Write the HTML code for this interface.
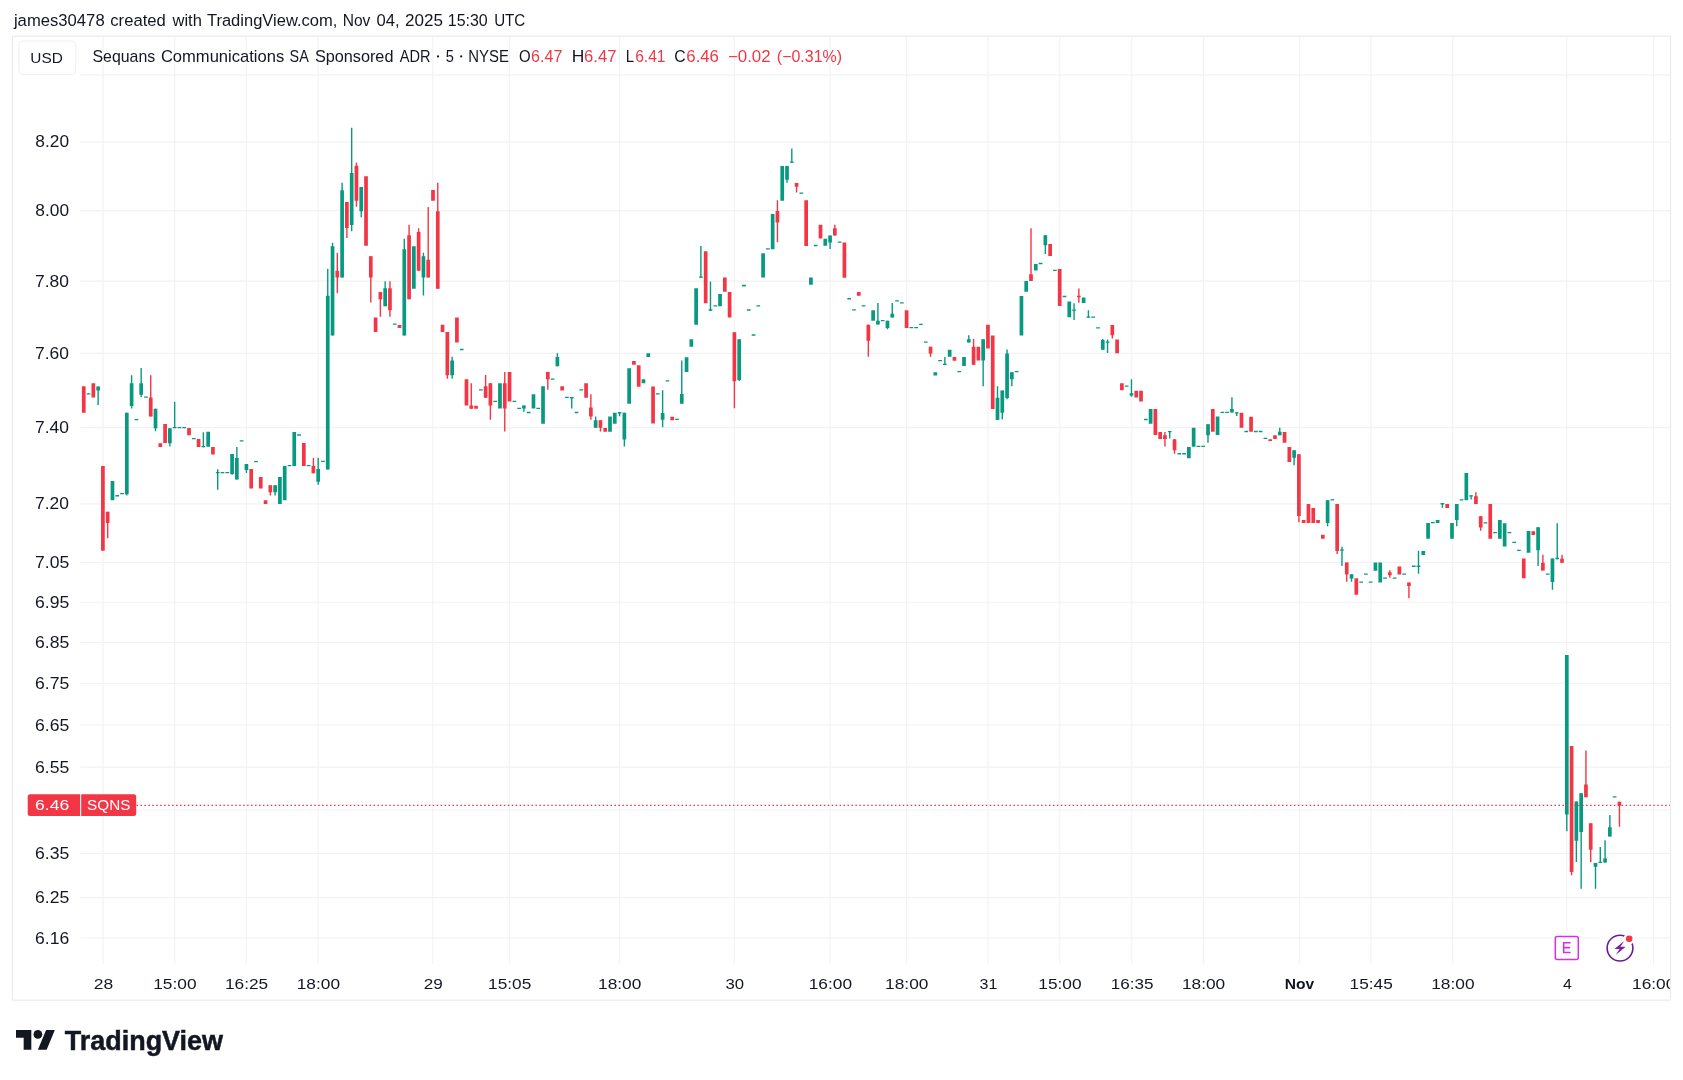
<!DOCTYPE html>
<html><head><meta charset="utf-8"><title>SQNS chart</title>
<style>html,body{margin:0;padding:0;background:#fff;width:1683px;height:1080px;overflow:hidden;font-family:"Liberation Sans",sans-serif}svg{will-change:transform}</style></head>
<body>
<svg width="1683" height="1080" viewBox="0 0 1683 1080" style="position:absolute;left:0;top:0;font-family:'Liberation Sans',sans-serif">
<defs><clipPath id="cp"><rect x="12.5" y="36.2" width="1657.5" height="964"/></clipPath></defs>
<rect x="0" y="0" width="1683" height="1080" fill="#fff"/>
<path d="M103.10 36.2 V964 M174.70 36.2 V964 M246.30 36.2 V964 M318.20 36.2 V964 M432.80 36.2 V964 M509.40 36.2 V964 M619.50 36.2 V964 M734.30 36.2 V964 M830.20 36.2 V964 M906.60 36.2 V964 M987.90 36.2 V964 M1059.80 36.2 V964 M1131.80 36.2 V964 M1203.40 36.2 V964 M1299.50 36.2 V964 M1370.90 36.2 V964 M1452.70 36.2 V964 M1566.80 36.2 V964 M1653.50 36.2 V964 M80.5 74.84 H1670.5 M80.5 141.90 H1670.5 M80.5 210.62 H1670.5 M80.5 281.08 H1670.5 M80.5 353.37 H1670.5 M80.5 427.59 H1670.5 M80.5 503.84 H1670.5 M80.5 562.43 H1670.5 M80.5 602.19 H1670.5 M80.5 642.52 H1670.5 M80.5 683.45 H1670.5 M80.5 724.99 H1670.5 M80.5 767.15 H1670.5 M80.5 809.97 H1670.5 M80.5 853.46 H1670.5 M80.5 897.63 H1670.5 M80.5 938.00 H1670.5" stroke="#f2f2f4" stroke-width="1.1" fill="none"/>
<text transform="translate(35.36 147.45) scale(1.1019 1)" font-size="15.7" fill="#131722">8.20</text>
<text transform="translate(35.36 216.17) scale(1.1019 1)" font-size="15.7" fill="#131722">8.00</text>
<text transform="translate(35.08 286.63) scale(1.1111 1)" font-size="15.7" fill="#131722">7.80</text>
<text transform="translate(35.08 358.92) scale(1.1111 1)" font-size="15.7" fill="#131722">7.60</text>
<text transform="translate(35.08 433.14) scale(1.1111 1)" font-size="15.7" fill="#131722">7.40</text>
<text transform="translate(35.08 509.39) scale(1.1111 1)" font-size="15.7" fill="#131722">7.20</text>
<text transform="translate(35.08 567.98) scale(1.1205 1)" font-size="15.7" fill="#131722">7.05</text>
<text transform="translate(35.08 607.74) scale(1.1205 1)" font-size="15.7" fill="#131722">6.95</text>
<text transform="translate(35.08 648.07) scale(1.1205 1)" font-size="15.7" fill="#131722">6.85</text>
<text transform="translate(35.08 689.00) scale(1.1205 1)" font-size="15.7" fill="#131722">6.75</text>
<text transform="translate(35.08 730.54) scale(1.1205 1)" font-size="15.7" fill="#131722">6.65</text>
<text transform="translate(35.08 772.70) scale(1.1205 1)" font-size="15.7" fill="#131722">6.55</text>
<text transform="translate(35.08 859.01) scale(1.1205 1)" font-size="15.7" fill="#131722">6.35</text>
<text transform="translate(35.08 903.18) scale(1.1205 1)" font-size="15.7" fill="#131722">6.25</text>
<text transform="translate(35.08 943.55) scale(1.1205 1)" font-size="15.7" fill="#131722">6.16</text>
<g clip-path="url(#cp)">
<path d="M98.12 386.48 V405.00 M126.82 412.78 V495.56 M131.60 375.19 V408.52 M141.17 367.96 V397.04 M155.52 408.70 V431.30 M169.88 428.15 V446.48 M174.66 401.67 V428.24 M203.36 432.22 V447.32 M217.72 469.26 V489.63 M232.07 454.11 V474.67 M236.85 446.89 V479.44 M246.42 464.11 V473.00 M275.12 485.22 V495.56 M318.18 457.78 V484.67 M327.75 268.80 V469.40 M332.53 242.80 V335.50 M342.10 182.83 V277.50 M351.67 127.83 V231.33 M361.24 187.00 V217.17 M385.16 281.33 V306.33 M404.29 238.70 V335.50 M423.43 252.83 V295.50 M452.13 356.67 V378.67 M523.89 405.45 V411.66 M557.38 353.37 V366.20 M571.73 397.10 V408.45 M595.65 416.47 V427.70 M619.57 412.08 V416.15 M624.36 412.73 V446.42 M662.63 390.19 V427.22 M681.76 360.56 V403.70 M700.90 246.11 V277.87 M710.47 281.48 V310.65 M739.17 339.26 V380.93 M787.01 165.93 V182.67 M791.80 148.59 V162.87 M830.07 235.56 V248.89 M877.91 302.92 V324.44 M887.48 320.69 V329.31 M892.26 302.92 V317.50 M944.88 357.08 V365.09 M968.80 335.28 V342.50 M983.16 339.31 V386.25 M997.51 386.25 V420.00 M1002.29 390.42 V419.58 M1007.08 349.44 V399.17 M1011.86 372.36 V386.25 M1045.35 235.37 V253.89 M1074.05 303.33 V320.00 M1088.40 310.37 V317.87 M1102.76 339.07 V349.63 M1107.54 339.44 V352.96 M1131.46 379.26 V396.85 M1169.73 431.06 V438.45 M1208.00 424.22 V442.73 M1231.92 397.27 V412.46 M1236.71 412.13 V415.99 M1279.76 427.75 V435.24 M1294.12 450.21 V465.19 M1327.60 500.29 V526.26 M1341.96 546.72 V565.92 M1351.52 574.27 V581.67 M1418.50 550.66 V573.80 M1442.42 503.10 V507.68 M1456.77 504.06 V526.26 M1471.12 495.26 V499.54 M1538.10 527.15 V565.91 M1552.45 558.52 V589.63 M1557.24 523.13 V559.17 M1566.80 655.00 V831.30 M1576.37 801.48 V862.01 M1581.16 793.15 V888.63 M1595.51 862.94 V888.63 M1600.29 846.97 V863.01 M1605.08 840.25 V862.59 M1609.86 814.91 V836.55" stroke="#089981" stroke-width="1.4" fill="none"/>
<path d="M107.68 511.85 V538.15 M150.74 375.19 V416.48 M270.34 485.22 V495.56 M313.40 458.00 V473.33 M337.32 252.83 V293.33 M346.88 202.00 V238.00 M356.45 162.50 V206.67 M370.80 256.30 V302.50 M380.37 292.00 V316.67 M389.94 281.33 V316.67 M409.08 224.70 V299.20 M418.64 228.33 V270.83 M428.21 207.00 V277.50 M437.78 182.83 V288.67 M447.35 332.00 V378.67 M471.27 383.33 V408.83 M485.62 375.08 V397.75 M490.40 383.32 V419.68 M504.76 372.09 V431.44 M547.81 372.09 V389.73 M590.87 394.33 V419.68 M600.44 420.21 V431.44 M734.39 332.22 V408.15 M777.44 200.30 V242.22 M796.58 182.96 V192.59 M834.85 224.74 V235.56 M868.34 324.72 V356.67 M930.53 346.67 V356.67 M973.59 339.03 V364.72 M1031.00 228.33 V281.11 M1078.84 288.52 V302.78 M1112.32 325.00 V338.52 M1164.95 432.03 V446.47 M1174.52 439.30 V453.74 M1298.90 454.17 V522.17 M1337.17 504.06 V554.12 M1346.74 562.46 V581.67 M1389.80 570.33 V577.73 M1408.93 582.45 V598.19 M1475.91 492.15 V504.08 M1480.69 516.13 V530.65 M1542.88 554.63 V570.45 M1562.02 554.63 V562.80 M1571.59 746.00 V875.30 M1585.94 750.60 V797.20 M1590.72 823.24 V862.01 M1619.43 801.83 V826.71" stroke="#f23645" stroke-width="1.4" fill="none"/>
<path d="M86.70 393.24 h3.7 V394.54 h-3.7 z M96.27 386.48 h3.7 V390.56 h-3.7 z M110.62 480.93 h3.7 V500.19 h-3.7 z M115.40 495.09 h3.7 V496.39 h-3.7 z M120.19 493.05 h3.7 V494.35 h-3.7 z M124.97 412.78 h3.7 V494.26 h-3.7 z M129.75 383.15 h3.7 V405.93 h-3.7 z M134.54 418.98 h3.7 V420.28 h-3.7 z M139.32 383.15 h3.7 V394.81 h-3.7 z M144.11 396.57 h3.7 V397.87 h-3.7 z M153.67 408.70 h3.7 V428.15 h-3.7 z M168.03 428.15 h3.7 V443.33 h-3.7 z M172.81 426.94 h3.7 V428.24 h-3.7 z M177.59 426.94 h3.7 V428.24 h-3.7 z M182.38 426.94 h3.7 V428.24 h-3.7 z M191.95 438.05 h3.7 V439.35 h-3.7 z M201.51 446.02 h3.7 V447.32 h-3.7 z M206.30 431.85 h3.7 V446.67 h-3.7 z M215.87 471.94 h3.7 V473.24 h-3.7 z M220.65 471.94 h3.7 V473.24 h-3.7 z M225.43 471.94 h3.7 V473.24 h-3.7 z M230.22 454.11 h3.7 V473.89 h-3.7 z M235.00 458.11 h3.7 V479.44 h-3.7 z M239.79 440.13 h3.7 V441.43 h-3.7 z M244.57 464.11 h3.7 V470.00 h-3.7 z M254.14 461.02 h3.7 V462.32 h-3.7 z M273.27 485.22 h3.7 V492.22 h-3.7 z M278.06 477.00 h3.7 V504.11 h-3.7 z M282.84 466.11 h3.7 V500.33 h-3.7 z M287.63 464.91 h3.7 V466.21 h-3.7 z M292.41 432.00 h3.7 V466.11 h-3.7 z M297.19 434.35 h3.7 V435.65 h-3.7 z M306.76 464.91 h3.7 V466.21 h-3.7 z M316.33 469.11 h3.7 V481.67 h-3.7 z M321.11 460.79 h3.7 V462.09 h-3.7 z M325.90 295.80 h3.7 V469.40 h-3.7 z M330.68 246.20 h3.7 V335.50 h-3.7 z M340.25 190.33 h3.7 V277.50 h-3.7 z M349.82 173.00 h3.7 V225.00 h-3.7 z M359.39 187.00 h3.7 V211.17 h-3.7 z M383.31 288.33 h3.7 V306.33 h-3.7 z M392.87 323.52 h3.7 V324.82 h-3.7 z M402.44 249.20 h3.7 V335.50 h-3.7 z M412.01 246.17 h3.7 V288.67 h-3.7 z M421.58 256.33 h3.7 V277.50 h-3.7 z M450.28 360.50 h3.7 V375.33 h-3.7 z M459.85 348.85 h3.7 V350.15 h-3.7 z M478.99 389.30 h3.7 V390.60 h-3.7 z M493.34 400.63 h3.7 V401.93 h-3.7 z M498.12 383.32 h3.7 V408.45 h-3.7 z M512.47 400.63 h3.7 V401.93 h-3.7 z M517.26 407.80 h3.7 V409.10 h-3.7 z M522.04 405.45 h3.7 V408.45 h-3.7 z M526.83 411.86 h3.7 V413.16 h-3.7 z M531.61 394.33 h3.7 V408.45 h-3.7 z M536.39 407.80 h3.7 V409.10 h-3.7 z M541.18 386.20 h3.7 V423.74 h-3.7 z M550.75 378.39 h3.7 V379.69 h-3.7 z M555.53 357.11 h3.7 V366.20 h-3.7 z M565.10 396.78 h3.7 V398.08 h-3.7 z M569.88 397.10 h3.7 V398.40 h-3.7 z M574.67 411.86 h3.7 V413.16 h-3.7 z M579.45 389.30 h3.7 V390.60 h-3.7 z M593.80 420.21 h3.7 V427.70 h-3.7 z M608.15 416.47 h3.7 V431.76 h-3.7 z M612.94 412.73 h3.7 V423.74 h-3.7 z M617.72 412.08 h3.7 V413.38 h-3.7 z M622.51 412.73 h3.7 V439.47 h-3.7 z M627.29 368.13 h3.7 V403.64 h-3.7 z M641.64 379.36 h3.7 V383.32 h-3.7 z M646.43 353.37 h3.7 V357.11 h-3.7 z M655.99 393.24 h3.7 V394.54 h-3.7 z M660.78 412.96 h3.7 V419.81 h-3.7 z M665.56 380.28 h3.7 V381.58 h-3.7 z M675.13 418.79 h3.7 V420.09 h-3.7 z M679.91 393.89 h3.7 V403.70 h-3.7 z M684.70 357.22 h3.7 V372.04 h-3.7 z M689.48 339.26 h3.7 V346.67 h-3.7 z M694.27 288.33 h3.7 V324.81 h-3.7 z M699.05 276.57 h3.7 V277.87 h-3.7 z M708.62 309.35 h3.7 V310.65 h-3.7 z M713.40 305.28 h3.7 V306.58 h-3.7 z M718.19 293.89 h3.7 V306.30 h-3.7 z M737.32 339.26 h3.7 V380.00 h-3.7 z M742.11 284.63 h3.7 V286.48 h-3.7 z M746.89 309.35 h3.7 V310.65 h-3.7 z M751.67 334.35 h3.7 V335.65 h-3.7 z M756.46 305.28 h3.7 V306.58 h-3.7 z M761.24 253.15 h3.7 V277.59 h-3.7 z M766.03 248.24 h3.7 V249.54 h-3.7 z M770.81 214.07 h3.7 V249.33 h-3.7 z M780.38 165.93 h3.7 V200.74 h-3.7 z M785.16 165.93 h3.7 V179.70 h-3.7 z M789.95 161.57 h3.7 V162.87 h-3.7 z M799.51 192.39 h3.7 V193.69 h-3.7 z M809.08 277.48 h3.7 V284.74 h-3.7 z M813.87 244.83 h3.7 V246.13 h-3.7 z M823.43 238.81 h3.7 V245.63 h-3.7 z M828.22 235.56 h3.7 V242.52 h-3.7 z M837.79 241.57 h3.7 V242.87 h-3.7 z M847.35 298.10 h3.7 V299.40 h-3.7 z M852.14 309.21 h3.7 V310.51 h-3.7 z M861.71 305.32 h3.7 V306.62 h-3.7 z M871.27 310.14 h3.7 V320.69 h-3.7 z M876.06 320.69 h3.7 V324.44 h-3.7 z M880.84 319.91 h3.7 V321.21 h-3.7 z M885.63 320.69 h3.7 V327.92 h-3.7 z M890.41 313.75 h3.7 V317.50 h-3.7 z M895.19 300.18 h3.7 V301.48 h-3.7 z M899.98 302.27 h3.7 V303.57 h-3.7 z M909.55 326.99 h3.7 V328.29 h-3.7 z M914.33 326.99 h3.7 V328.29 h-3.7 z M919.11 323.79 h3.7 V325.09 h-3.7 z M923.90 341.43 h3.7 V342.73 h-3.7 z M933.47 372.36 h3.7 V375.56 h-3.7 z M938.25 359.91 h3.7 V361.21 h-3.7 z M943.03 363.79 h3.7 V365.09 h-3.7 z M947.82 349.86 h3.7 V356.67 h-3.7 z M957.39 371.02 h3.7 V372.32 h-3.7 z M962.17 357.08 h3.7 V366.11 h-3.7 z M966.95 339.31 h3.7 V342.50 h-3.7 z M981.31 339.31 h3.7 V360.56 h-3.7 z M995.66 397.78 h3.7 V420.00 h-3.7 z M1000.44 390.42 h3.7 V412.64 h-3.7 z M1005.23 353.61 h3.7 V398.06 h-3.7 z M1010.01 372.36 h3.7 V379.31 h-3.7 z M1014.79 371.02 h3.7 V372.32 h-3.7 z M1019.58 295.97 h3.7 V335.56 h-3.7 z M1024.36 281.11 h3.7 V291.85 h-3.7 z M1033.93 263.89 h3.7 V270.56 h-3.7 z M1038.71 262.87 h3.7 V264.17 h-3.7 z M1043.50 235.37 h3.7 V245.37 h-3.7 z M1053.07 269.72 h3.7 V271.02 h-3.7 z M1062.63 295.83 h3.7 V297.13 h-3.7 z M1067.42 301.48 h3.7 V317.22 h-3.7 z M1072.20 309.54 h3.7 V310.84 h-3.7 z M1081.77 297.41 h3.7 V302.96 h-3.7 z M1086.55 316.57 h3.7 V317.87 h-3.7 z M1091.34 316.57 h3.7 V317.87 h-3.7 z M1096.12 327.13 h3.7 V328.43 h-3.7 z M1100.91 340.00 h3.7 V349.63 h-3.7 z M1105.69 341.57 h3.7 V342.87 h-3.7 z M1124.83 385.46 h3.7 V386.76 h-3.7 z M1129.61 393.15 h3.7 V395.56 h-3.7 z M1143.96 418.87 h3.7 V420.17 h-3.7 z M1148.75 409.04 h3.7 V423.80 h-3.7 z M1167.88 431.06 h3.7 V432.36 h-3.7 z M1177.45 453.09 h3.7 V454.39 h-3.7 z M1182.23 453.09 h3.7 V454.39 h-3.7 z M1187.02 447.01 h3.7 V458.24 h-3.7 z M1191.80 427.75 h3.7 V446.68 h-3.7 z M1196.59 445.82 h3.7 V447.12 h-3.7 z M1201.37 445.82 h3.7 V447.12 h-3.7 z M1206.15 424.22 h3.7 V435.24 h-3.7 z M1215.72 416.52 h3.7 V434.92 h-3.7 z M1220.51 411.81 h3.7 V413.11 h-3.7 z M1225.29 411.81 h3.7 V413.11 h-3.7 z M1230.07 409.04 h3.7 V412.46 h-3.7 z M1234.86 412.13 h3.7 V413.43 h-3.7 z M1244.43 430.85 h3.7 V432.15 h-3.7 z M1253.99 430.85 h3.7 V432.15 h-3.7 z M1258.78 430.85 h3.7 V432.15 h-3.7 z M1263.56 437.80 h3.7 V439.10 h-3.7 z M1277.91 431.71 h3.7 V435.24 h-3.7 z M1292.27 450.21 h3.7 V457.70 h-3.7 z M1325.75 500.29 h3.7 V523.11 h-3.7 z M1330.54 499.16 h3.7 V500.46 h-3.7 z M1340.11 549.53 h3.7 V550.83 h-3.7 z M1349.67 574.27 h3.7 V578.52 h-3.7 z M1359.24 581.49 h3.7 V582.79 h-3.7 z M1364.03 573.46 h3.7 V574.76 h-3.7 z M1368.81 581.49 h3.7 V582.79 h-3.7 z M1373.59 562.46 h3.7 V570.65 h-3.7 z M1378.38 562.46 h3.7 V582.45 h-3.7 z M1383.16 577.55 h3.7 V578.85 h-3.7 z M1392.73 577.55 h3.7 V578.85 h-3.7 z M1402.30 573.46 h3.7 V574.76 h-3.7 z M1411.87 565.59 h3.7 V566.89 h-3.7 z M1416.65 565.59 h3.7 V566.89 h-3.7 z M1421.43 550.97 h3.7 V554.91 h-3.7 z M1426.22 523.11 h3.7 V538.85 h-3.7 z M1431.00 521.99 h3.7 V523.29 h-3.7 z M1435.79 519.96 h3.7 V523.11 h-3.7 z M1440.57 503.10 h3.7 V504.40 h-3.7 z M1450.14 523.11 h3.7 V538.85 h-3.7 z M1454.92 504.06 h3.7 V519.96 h-3.7 z M1459.71 499.16 h3.7 V500.46 h-3.7 z M1464.49 472.96 h3.7 V500.19 h-3.7 z M1469.27 495.26 h3.7 V496.56 h-3.7 z M1483.63 522.22 h3.7 V523.52 h-3.7 z M1493.19 531.95 h3.7 V533.25 h-3.7 z M1497.98 520.02 h3.7 V538.69 h-3.7 z M1502.76 523.13 h3.7 V546.60 h-3.7 z M1507.55 531.95 h3.7 V533.25 h-3.7 z M1512.33 541.67 h3.7 V542.97 h-3.7 z M1517.11 549.71 h3.7 V551.01 h-3.7 z M1526.68 531.04 h3.7 V552.69 h-3.7 z M1536.25 527.15 h3.7 V550.36 h-3.7 z M1545.82 573.43 h3.7 V574.73 h-3.7 z M1550.60 558.52 h3.7 V582.12 h-3.7 z M1555.39 557.87 h3.7 V559.17 h-3.7 z M1564.95 655.00 h3.7 V814.60 h-3.7 z M1574.52 801.48 h3.7 V840.83 h-3.7 z M1579.31 793.15 h3.7 V831.92 h-3.7 z M1593.66 862.94 h3.7 V866.64 h-3.7 z M1598.44 861.71 h3.7 V863.01 h-3.7 z M1603.23 858.54 h3.7 V862.59 h-3.7 z M1608.01 827.29 h3.7 V836.55 h-3.7 z M1612.79 796.20 h3.7 V797.50 h-3.7 z" fill="#089981"/>
<path d="M81.91 386.30 h3.7 V412.78 h-3.7 z M91.48 383.15 h3.7 V397.59 h-3.7 z M101.05 465.93 h3.7 V550.74 h-3.7 z M105.83 511.85 h3.7 V522.96 h-3.7 z M148.89 397.59 h3.7 V416.48 h-3.7 z M158.46 443.33 h3.7 V447.04 h-3.7 z M163.24 423.89 h3.7 V442.96 h-3.7 z M187.16 427.96 h3.7 V435.37 h-3.7 z M196.73 439.07 h3.7 V447.04 h-3.7 z M211.08 447.04 h3.7 V454.44 h-3.7 z M249.35 469.11 h3.7 V488.56 h-3.7 z M258.92 477.00 h3.7 V488.56 h-3.7 z M263.71 500.33 h3.7 V504.11 h-3.7 z M268.49 485.22 h3.7 V492.22 h-3.7 z M301.98 443.11 h3.7 V466.11 h-3.7 z M311.55 466.11 h3.7 V473.33 h-3.7 z M335.47 270.83 h3.7 V277.50 h-3.7 z M345.03 202.00 h3.7 V228.00 h-3.7 z M354.60 165.83 h3.7 V200.83 h-3.7 z M364.17 176.17 h3.7 V245.83 h-3.7 z M368.95 256.30 h3.7 V277.50 h-3.7 z M373.74 317.50 h3.7 V332.00 h-3.7 z M378.52 292.00 h3.7 V299.17 h-3.7 z M388.09 288.33 h3.7 V310.33 h-3.7 z M397.66 325.00 h3.7 V328.00 h-3.7 z M407.23 235.30 h3.7 V299.20 h-3.7 z M416.79 232.00 h3.7 V270.83 h-3.7 z M426.36 259.67 h3.7 V277.50 h-3.7 z M431.15 190.00 h3.7 V200.83 h-3.7 z M435.93 211.17 h3.7 V288.67 h-3.7 z M440.71 324.67 h3.7 V332.00 h-3.7 z M445.50 332.00 h3.7 V375.33 h-3.7 z M455.07 317.50 h3.7 V342.50 h-3.7 z M464.63 379.17 h3.7 V405.50 h-3.7 z M469.42 405.50 h3.7 V408.83 h-3.7 z M474.20 405.67 h3.7 V408.77 h-3.7 z M483.77 386.20 h3.7 V397.75 h-3.7 z M488.55 383.32 h3.7 V405.45 h-3.7 z M502.91 383.32 h3.7 V408.45 h-3.7 z M507.69 372.09 h3.7 V401.50 h-3.7 z M545.96 372.09 h3.7 V379.36 h-3.7 z M560.31 386.20 h3.7 V390.48 h-3.7 z M584.23 383.32 h3.7 V397.75 h-3.7 z M589.02 407.38 h3.7 V416.47 h-3.7 z M598.59 420.21 h3.7 V427.70 h-3.7 z M603.37 427.91 h3.7 V431.76 h-3.7 z M632.07 361.07 h3.7 V364.81 h-3.7 z M636.86 365.13 h3.7 V386.74 h-3.7 z M651.21 386.48 h3.7 V423.52 h-3.7 z M670.35 416.67 h3.7 V420.19 h-3.7 z M703.83 251.30 h3.7 V303.15 h-3.7 z M722.97 277.59 h3.7 V291.67 h-3.7 z M727.75 292.04 h3.7 V317.41 h-3.7 z M732.54 332.22 h3.7 V381.30 h-3.7 z M775.59 211.11 h3.7 V222.52 h-3.7 z M794.73 182.96 h3.7 V186.67 h-3.7 z M804.30 200.30 h3.7 V245.93 h-3.7 z M818.65 224.74 h3.7 V238.52 h-3.7 z M833.00 228.15 h3.7 V235.56 h-3.7 z M842.57 242.52 h3.7 V277.78 h-3.7 z M856.92 292.08 h3.7 V295.69 h-3.7 z M866.49 324.72 h3.7 V340.69 h-3.7 z M904.76 310.14 h3.7 V327.92 h-3.7 z M928.68 346.67 h3.7 V353.61 h-3.7 z M952.60 357.08 h3.7 V360.83 h-3.7 z M971.74 346.67 h3.7 V364.72 h-3.7 z M976.52 346.67 h3.7 V360.56 h-3.7 z M986.09 324.72 h3.7 V348.47 h-3.7 z M990.87 335.56 h3.7 V408.89 h-3.7 z M1029.15 274.26 h3.7 V281.11 h-3.7 z M1048.28 244.07 h3.7 V256.11 h-3.7 z M1057.85 269.07 h3.7 V306.11 h-3.7 z M1076.99 295.83 h3.7 V297.13 h-3.7 z M1110.47 325.00 h3.7 V335.19 h-3.7 z M1115.26 339.44 h3.7 V353.33 h-3.7 z M1120.04 383.33 h3.7 V390.37 h-3.7 z M1134.39 390.74 h3.7 V397.41 h-3.7 z M1139.18 390.74 h3.7 V401.48 h-3.7 z M1153.53 409.04 h3.7 V434.92 h-3.7 z M1158.31 432.03 h3.7 V438.98 h-3.7 z M1163.10 435.24 h3.7 V438.98 h-3.7 z M1172.67 439.30 h3.7 V450.21 h-3.7 z M1210.94 409.04 h3.7 V431.71 h-3.7 z M1239.64 412.78 h3.7 V427.75 h-3.7 z M1249.21 416.74 h3.7 V431.71 h-3.7 z M1268.35 439.30 h3.7 V440.91 h-3.7 z M1273.13 435.24 h3.7 V438.98 h-3.7 z M1282.70 432.03 h3.7 V442.73 h-3.7 z M1287.48 447.01 h3.7 V461.98 h-3.7 z M1297.05 454.17 h3.7 V516.03 h-3.7 z M1301.83 519.96 h3.7 V523.11 h-3.7 z M1306.62 504.06 h3.7 V523.11 h-3.7 z M1311.40 508.00 h3.7 V523.11 h-3.7 z M1316.19 519.96 h3.7 V523.11 h-3.7 z M1320.97 534.76 h3.7 V538.85 h-3.7 z M1335.32 504.06 h3.7 V550.97 h-3.7 z M1344.89 562.46 h3.7 V574.58 h-3.7 z M1354.46 578.20 h3.7 V594.73 h-3.7 z M1387.95 572.22 h3.7 V575.37 h-3.7 z M1397.51 566.40 h3.7 V574.58 h-3.7 z M1407.08 582.45 h3.7 V586.07 h-3.7 z M1445.35 504.06 h3.7 V508.00 h-3.7 z M1474.06 496.30 h3.7 V504.08 h-3.7 z M1478.84 516.13 h3.7 V527.41 h-3.7 z M1488.41 504.08 h3.7 V538.69 h-3.7 z M1521.90 558.52 h3.7 V578.23 h-3.7 z M1531.47 531.30 h3.7 V534.93 h-3.7 z M1541.03 562.80 h3.7 V570.45 h-3.7 z M1560.17 558.78 h3.7 V562.80 h-3.7 z M1569.74 746.00 h3.7 V871.90 h-3.7 z M1584.09 784.50 h3.7 V797.20 h-3.7 z M1588.87 823.24 h3.7 V849.63 h-3.7 z M1617.58 801.83 h3.7 V805.65 h-3.7 z" fill="#f23645"/>
</g>
<path d="M136.5 805.4 H1670.5" stroke="#f23645" stroke-width="1.1" stroke-dasharray="1.5 2.45" fill="none"/>
<path d="M30.2 794.2 H80.1 V816 H30.2 a2.5 2.5 0 0 1 -2.5 -2.5 V796.7 a2.5 2.5 0 0 1 2.5 -2.5 z" fill="#f23645"/>
<path d="M81.2 794.2 H133.7 a2.5 2.5 0 0 1 2.5 2.5 V813.5 a2.5 2.5 0 0 1 -2.5 2.5 H81.2 z" fill="#f23645"/>
<text transform="translate(35.08 810.30) scale(1.1886 1)" font-size="14.8" fill="#fff">6.46</text>
<text transform="translate(87.12 810.30) scale(1.0328 1)" font-size="14.8" fill="#fff">SQNS</text>
<g clip-path="url(#cp)">
<text transform="translate(93.83 988.90) scale(1.1341 1)" font-size="15.4" fill="#131722">28</text>
<text transform="translate(153.22 988.90) scale(1.1239 1)" font-size="15.4" fill="#131722">15:00</text>
<text transform="translate(225.02 988.90) scale(1.1204 1)" font-size="15.4" fill="#131722">16:25</text>
<text transform="translate(296.72 988.90) scale(1.1239 1)" font-size="15.4" fill="#131722">18:00</text>
<text transform="translate(423.70 988.90) scale(1.1151 1)" font-size="15.4" fill="#131722">29</text>
<text transform="translate(488.12 988.90) scale(1.1204 1)" font-size="15.4" fill="#131722">15:05</text>
<text transform="translate(598.02 988.90) scale(1.1239 1)" font-size="15.4" fill="#131722">18:00</text>
<text transform="translate(725.43 988.90) scale(1.0882 1)" font-size="15.4" fill="#131722">30</text>
<text transform="translate(808.72 988.90) scale(1.1239 1)" font-size="15.4" fill="#131722">16:00</text>
<text transform="translate(885.12 988.90) scale(1.1239 1)" font-size="15.4" fill="#131722">18:00</text>
<text transform="translate(979.55 988.90) scale(1.0422 1)" font-size="15.4" fill="#131722">31</text>
<text transform="translate(1038.32 988.90) scale(1.1239 1)" font-size="15.4" fill="#131722">15:00</text>
<text transform="translate(1110.73 988.90) scale(1.1096 1)" font-size="15.4" fill="#131722">16:35</text>
<text transform="translate(1181.92 988.90) scale(1.1239 1)" font-size="15.4" fill="#131722">18:00</text>
<text transform="translate(1284.72 988.90) scale(1.0132 1)" font-size="15.4" fill="#131722" font-weight="bold">Nov</text>
<text transform="translate(1349.62 988.90) scale(1.1204 1)" font-size="15.4" fill="#131722">15:45</text>
<text transform="translate(1431.22 988.90) scale(1.1239 1)" font-size="15.4" fill="#131722">18:00</text>
<text transform="translate(1562.95 988.90) scale(1.0327 1)" font-size="15.4" fill="#131722">4</text>
<text transform="translate(1632.02 988.90) scale(1.1239 1)" font-size="15.4" fill="#131722">16:00</text>
</g>
<rect x="12.5" y="36.2" width="1658" height="964" fill="none" stroke="#ebebee" stroke-width="1.2"/>
<rect x="18.9" y="41" width="56.9" height="33.5" rx="4.5" fill="#fff" stroke="#eff0f3" stroke-width="1.1"/>
<text transform="translate(30.34 62.70) scale(1.0470 1)" font-size="14.7" fill="#131722">USD</text>
<text transform="translate(92.50 61.80) scale(0.9941 1)" font-size="16" fill="#131722">Sequans</text>
<text transform="translate(160.92 61.80) scale(1.0356 1)" font-size="16" fill="#131722">Communications</text>
<text transform="translate(289.55 61.80) scale(0.8986 1)" font-size="16" fill="#131722">SA</text>
<text transform="translate(314.89 61.80) scale(1.0159 1)" font-size="16" fill="#131722">Sponsored</text>
<text transform="translate(399.70 61.80) scale(0.9119 1)" font-size="16" fill="#131722">ADR</text>
<text transform="translate(445.64 61.80) scale(0.9161 1)" font-size="16" fill="#131722">5</text>
<text transform="translate(468.34 61.80) scale(0.9316 1)" font-size="16" fill="#131722">NYSE</text>
<text transform="translate(518.90 61.80) scale(0.9364 1)" font-size="16" fill="#131722">O</text>
<text transform="translate(571.74 61.80) scale(1.0889 1)" font-size="16" fill="#131722">H</text>
<text transform="translate(625.73 61.80) scale(0.9379 1)" font-size="16" fill="#131722">L</text>
<text transform="translate(674.16 61.80) scale(0.9854 1)" font-size="16" fill="#131722">C</text>
<circle cx="438" cy="56.4" r="1.1" fill="#131722"/><circle cx="461.2" cy="56.4" r="1.1" fill="#131722"/>
<text transform="translate(531.05 61.80) scale(1.0053 1)" font-size="16" fill="#f23645">6.47</text>
<text transform="translate(584.12 61.80) scale(1.0389 1)" font-size="16" fill="#f23645">6.47</text>
<text transform="translate(635.17 61.80) scale(0.9750 1)" font-size="16" fill="#f23645">6.41</text>
<text transform="translate(686.31 61.80) scale(1.0490 1)" font-size="16" fill="#f23645">6.46</text>
<text transform="translate(727.91 61.80) scale(1.0566 1)" font-size="16" fill="#f23645">−0.02</text>
<text transform="translate(776.85 61.80) scale(0.9986 1)" font-size="16" fill="#f23645">(−0.31%)</text>
<text transform="translate(13.92 26.00) scale(1.0644 1)" font-size="15.65" fill="#131722">james30478</text>
<text transform="translate(110.28 26.00) scale(1.0643 1)" font-size="15.65" fill="#131722">created</text>
<text transform="translate(172.46 26.00) scale(1.0553 1)" font-size="15.65" fill="#131722">with</text>
<text transform="translate(206.94 26.00) scale(1.0565 1)" font-size="15.65" fill="#131722">TradingView.com,</text>
<text transform="translate(342.68 26.00) scale(0.9959 1)" font-size="15.65" fill="#131722">Nov</text>
<text transform="translate(376.38 26.00) scale(1.0648 1)" font-size="15.65" fill="#131722">04,</text>
<text transform="translate(404.90 26.00) scale(1.0913 1)" font-size="15.65" fill="#131722">2025</text>
<text transform="translate(447.80 26.00) scale(1.0213 1)" font-size="15.65" fill="#131722">15:30</text>
<text transform="translate(494.15 26.00) scale(0.9692 1)" font-size="15.65" fill="#131722">UTC</text>
<rect x="1552" y="931.5" width="31" height="32.5" fill="#fff"/>
<rect x="1600" y="930.5" width="35" height="33.5" fill="#fff"/>
<rect x="1555.3" y="936.6" width="23" height="23" rx="2" fill="#fff" stroke="#d62df0" stroke-width="1.5"/>
<path d="M1570.6 942.8 H1563.7 V952.5 H1570.6 M1563.7 947.6 H1570" fill="none" stroke="#d62df0" stroke-width="1.55"/>
<circle cx="1620" cy="948.1" r="12.9" fill="#fff" stroke="#6a1b9a" stroke-width="1.6"/>
<circle cx="1629.2" cy="938.7" r="5.6" fill="#fff"/>
<circle cx="1629.2" cy="938.7" r="3.3" fill="#f23645"/>
<path d="M1624.2 940.9 L1614.4 949.1 H1619.6 L1615.8 955 L1625.6 946.8 H1620.4 Z" fill="#7b1fa2"/>
<g transform="translate(16 1025.62) scale(1.09444)" fill="#131722"><path d="M14 22H7V11H0V4h14v18zM28 22h-8l7.5-18h8L28 22z"/><circle cx="20" cy="8" r="4"/></g>
<text transform="translate(64.80 1049.70) scale(0.9985 1)" font-size="27" fill="#131722" font-weight="bold" stroke="#131722" stroke-width="0.5">TradingView</text>
</svg>
</body></html>
